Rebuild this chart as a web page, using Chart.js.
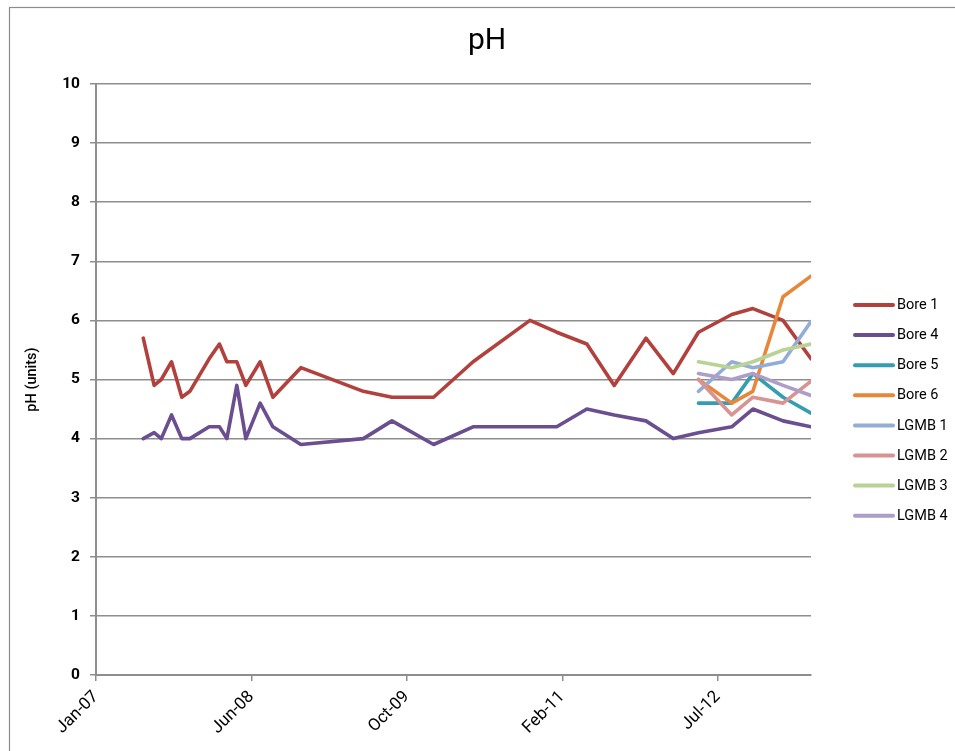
<!DOCTYPE html>
<html>
<head>
<meta charset="utf-8">
<script src="https://cdn.jsdelivr.net/npm/chart.js@4.4.1/dist/chart.umd.min.js"></script>
<style>
html,body{margin:0;padding:0;background:#fff;}
#wrap{width:955px;height:751px;position:relative;}
</style>
</head>
<body>
<div id="wrap"><canvas id="c"></canvas></div>
<script>
// ---- data ----
const seriesNames = ['Bore 1','Bore 4','Bore 5','Bore 6','LGMB 1','LGMB 2','LGMB 3','LGMB 4'];
const boreDates = ['2007-06-19','2007-07-24','2007-08-16','2007-09-18','2007-10-21','2007-11-16',
  '2008-01-17','2008-02-19','2008-03-14','2008-04-15','2008-05-14','2008-06-29','2008-08-09','2008-11-07',
  '2009-05-27','2009-08-27','2010-01-08','2010-05-15','2010-11-14','2011-02-08','2011-05-16','2011-08-12',
  '2011-11-22','2012-02-18','2012-05-09','2012-08-24','2012-10-31','2013-02-05','2013-05-06'];
const lateDates = ['2012-05-09','2012-08-24','2012-10-31','2013-02-05','2013-05-06'];
const bore1 = [5.7,4.9,5.0,5.3,4.7,4.8,5.35,5.6,5.3,5.3,4.9,5.3,4.7,5.2,4.8,4.7,4.7,5.3,6.0,5.8,5.6,4.9,5.7,5.1,5.8,6.1,6.2,6.0,5.35];
const bore4 = [4.0,4.1,4.0,4.4,4.0,4.0,4.2,4.2,4.0,4.9,4.0,4.6,4.2,3.9,4.0,4.3,3.9,4.2,4.2,4.2,4.5,4.4,4.3,4.0,4.1,4.2,4.5,4.3,4.2];
const bore5 = [4.6,4.6,5.1,4.7,4.43];
const bore6 = [5.0,4.6,4.8,6.4,6.75];
const lgmb1 = [4.8,5.3,5.2,5.3,5.98];
const lgmb2 = [5.0,4.4,4.7,4.6,4.97];
const lgmb3 = [5.3,5.2,5.3,5.5,5.6];
const lgmb4 = [5.1,5.0,5.1,4.9,4.73];
const xTickLabels = ['Jan-07','Jun-08','Oct-09','Feb-11','Jul-12'];
const xAxisStart = '2007-01-18';
const xAxisEnd = '2013-05-06';
const xTickStepDays = 500;

// ---- helpers ----
function dayNum(s){const p=s.split('-').map(Number);return Date.UTC(p[0],p[1]-1,p[2])/86400000;}
function pts(ds, vs){return ds.map((d,i)=>({x:dayNum(d),y:vs[i]}));}

const colors = ['#B2413D','#6B4E90','#349DB1','#E8863A','#93AED6','#D79492','#B9D295','#AD9DC8'];
const seriesData = [pts(boreDates,bore1),pts(boreDates,bore4),pts(lateDates,bore5),pts(lateDates,bore6),
  pts(lateDates,lgmb1),pts(lateDates,lgmb2),pts(lateDates,lgmb3),pts(lateDates,lgmb4)];

const FONT = 'Roboto, "Liberation Sans", Arial, sans-serif';
const GRID = '#8E8E8E';

const datasets = seriesNames.map((n,i)=>({
  label:n, data:seriesData[i], borderColor:colors[i], backgroundColor:colors[i],
  borderWidth:3.6, pointRadius:0, tension:0, fill:false,
  borderJoinStyle:'round', borderCapStyle:'round',
  order: seriesNames.length - i
}));

const frame = {
  id:'frame',
  beforeDraw(chart){
    const ctx=chart.ctx; ctx.save();
    ctx.fillStyle='#fff'; ctx.fillRect(0,0,chart.width,chart.height);
    ctx.strokeStyle='#8C8C8C'; ctx.lineWidth=1.2;
    ctx.strokeRect(9.5,7.5,1000,900);
    ctx.restore();
  },
  afterDraw(chart){
    const ctx=chart.ctx; ctx.save();
    const x0=855, x1=893, tx=897, y0=305, dy=30.1;
    chart.data.datasets.forEach((d,i)=>{
      const y=y0+i*dy;
      ctx.strokeStyle=d.borderColor; ctx.lineWidth=4; ctx.lineCap='round';
      ctx.beginPath(); ctx.moveTo(x0,y); ctx.lineTo(x1,y); ctx.stroke();
      ctx.fillStyle='#000'; ctx.font='14.5px '+FONT; ctx.textBaseline='middle'; ctx.textAlign='left';
      ctx.fillText(d.label,tx,y+0.5);
    });
    ctx.restore();
  }
};

new Chart(document.getElementById('c'),{
  type:'line',
  data:{datasets},
  plugins:[frame],
  options:{
    responsive:true, maintainAspectRatio:false, animation:false,
    layout:{padding:{left:19,right:0,top:0,bottom:0}},
    plugins:{
      legend:{display:false},
      tooltip:{enabled:false},
      title:{display:true,text:'pH',color:'#000',font:{family:FONT,size:30,weight:'normal'},padding:{top:23,bottom:25}}
    },
    scales:{
      x:{
        type:'linear', min:dayNum(xAxisStart), max:dayNum(xAxisEnd),
        afterBuildTicks(s){ s.ticks = xTickLabels.map((l,i)=>({value:dayNum(xAxisStart)+i*xTickStepDays})); },
        afterFit(s){ s.height = 76; },
        ticks:{autoSkip:false, minRotation:45, maxRotation:45, padding:6, color:'#000',
          font:{family:FONT,size:17},
          callback:(v,i)=>xTickLabels[i]},
        grid:{display:true, drawOnChartArea:false, drawTicks:true, tickLength:6, color:GRID, lineWidth:1.5},
        border:{display:true,color:GRID,width:2}
      },
      y:{
        type:'linear', min:0, max:10,
        afterFit(s){ s.width = 77; },
        ticks:{stepSize:1, padding:10, color:'#000', font:{family:FONT,size:15.5,weight:'bold'}},
        grid:{color:GRID, lineWidth:1.5, drawTicks:true, tickLength:6},
        border:{display:true,color:GRID,width:2},
        title:{display:true,text:'pH (units)',color:'#000',font:{family:FONT,size:14.5,weight:'500'},padding:{top:5,bottom:0}}
      },
      yRight:{
        type:'linear', position:'right', display:true,
        afterFit(s){ s.width = 144; },
        ticks:{display:false}, grid:{display:false}, border:{display:false}
      }
    }
  }
});
</script>
</body>
</html>
